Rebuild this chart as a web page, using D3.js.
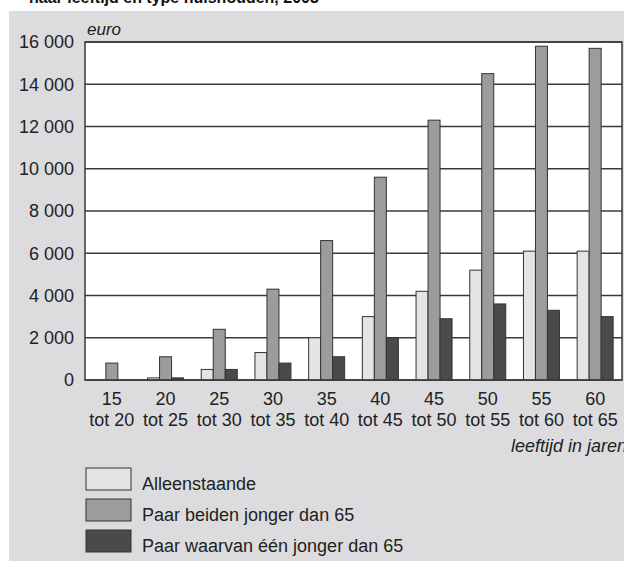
<!DOCTYPE html>
<html>
<head>
<meta charset="utf-8">
<script src="https://cdn.jsdelivr.net/npm/d3@7"></script>
<style>
  html, body { margin: 0; padding: 0; background: #fff; }
  svg { display: block; font-family: "Liberation Sans", Arial, sans-serif; }
</style>
</head>
<body>
<div id="chart"></div>
<script>
// data (euro)
var ageFrom = ["15", "20", "25", "30", "35", "40", "45", "50", "55", "60"];
var ageTo = ["tot 20", "tot 25", "tot 30", "tot 35", "tot 40", "tot 45", "tot 50", "tot 55", "tot 60", "tot 65"];
var alleenstaande = [0, 100, 500, 1300, 2000, 3000, 4200, 5200, 6100, 6100];
var paarBeiden = [800, 1100, 2400, 4300, 6600, 9600, 12300, 14500, 15800, 15700];
var paarEen = [0, 100, 500, 800, 1100, 2000, 2900, 3600, 3300, 3000];
var seriesNames = ["Alleenstaande", "Paar beiden jonger dan 65", "Paar waarvan één jonger dan 65"];
var yTicks = [0, 2000, 4000, 6000, 8000, 10000, 12000, 14000, 16000];

var width = 624, height = 561;
var colors = ["#e4e4e6", "#9c9c9c", "#4a4a4c"];

var svg = d3.select("#chart").append("svg")
  .attr("width", width)
  .attr("height", height);

// grey page panel
svg.append("rect")
  .attr("x", 9).attr("y", 11)
  .attr("width", width - 9).attr("height", height - 11)
  .attr("fill", "#dcdcde");

// clipped title at the top
svg.append("text")
  .attr("x", 29).attr("y", 3)
  .attr("font-size", 16).attr("font-weight", "bold")
  .attr("fill", "#111")
  .text("naar leeftijd en type huishouden, 2003");

var plotLeft = 85, plotRight = 622, plotTop = 42, plotBottom = 380;

var x = d3.scaleBand().domain(ageFrom).range([plotLeft, plotRight]);
var xs = d3.scaleBand().domain(seriesNames)
  .range([x.bandwidth() / 2 - 18, x.bandwidth() / 2 + 18]);
var y = d3.scaleLinear().domain([0, 16000]).range([plotBottom, plotTop]);

// plot area
svg.append("rect")
  .attr("x", plotLeft).attr("y", plotTop)
  .attr("width", plotRight - plotLeft).attr("height", plotBottom - plotTop)
  .attr("fill", "#fff");

// gridlines
svg.append("g").selectAll("line")
  .data(yTicks)
  .enter().append("line")
  .attr("x1", plotLeft).attr("x2", plotRight)
  .attr("y1", function(d) { return y(d); })
  .attr("y2", function(d) { return y(d); })
  .attr("stroke", "#3a3a3a")
  .attr("stroke-width", 1.3);

// y labels
var yAxis = d3.axisLeft(y).tickValues(yTicks).tickSize(0).tickPadding(11)
  .tickFormat(function(d) { return d3.format(",")(d).replace(",", " "); });
var ya = svg.append("g").attr("transform", "translate(" + plotLeft + ",0)").call(yAxis);
ya.select(".domain").remove();
ya.selectAll("text")
  .attr("font-size", 18)
  .attr("font-family", "Liberation Sans, Arial, sans-serif")
  .attr("fill", "#222");

svg.append("text")
  .attr("x", 87).attr("y", 35)
  .attr("font-size", 17).attr("font-style", "italic")
  .attr("fill", "#222")
  .text("euro");

// bars
var rows = ageFrom.map(function(a, i) {
  return { age: a, values: [alleenstaande[i], paarBeiden[i], paarEen[i]] };
});

var groups = svg.append("g").selectAll("g")
  .data(rows)
  .enter().append("g")
  .attr("transform", function(d) { return "translate(" + x(d.age) + ",0)"; });

groups.selectAll("rect")
  .data(function(d) {
    return d.values.map(function(v, j) { return { key: seriesNames[j], value: v, j: j }; });
  })
  .enter().append("rect")
  .filter(function(d) { return d.value > 0; })
  .attr("x", function(d) { return xs(d.key); })
  .attr("width", xs.bandwidth())
  .attr("y", function(d) { return y(d.value); })
  .attr("height", function(d) { return y(0) - y(d.value); })
  .attr("fill", function(d) { return colors[d.j]; })
  .attr("stroke", "#333")
  .attr("stroke-width", 1);

// plot frame
svg.append("rect")
  .attr("x", plotLeft).attr("y", plotTop)
  .attr("width", plotRight - plotLeft).attr("height", plotBottom - plotTop)
  .attr("fill", "none")
  .attr("stroke", "#3a3a3a")
  .attr("stroke-width", 1.5);

// x labels (two lines)
var xl = svg.append("g").selectAll("text")
  .data(ageFrom)
  .enter().append("text")
  .attr("x", function(d) { return x(d) + x.bandwidth() / 2; })
  .attr("text-anchor", "middle")
  .attr("font-size", 18)
  .attr("fill", "#222");
xl.append("tspan")
  .attr("x", function(d) { return x(d) + x.bandwidth() / 2; })
  .attr("y", 405)
  .text(function(d) { return d; });
xl.append("tspan")
  .attr("x", function(d) { return x(d) + x.bandwidth() / 2; })
  .attr("y", 426)
  .text(function(d, i) { return ageTo[i]; });

svg.append("text")
  .attr("x", 627).attr("y", 452)
  .attr("text-anchor", "end")
  .attr("font-size", 18).attr("font-style", "italic")
  .attr("fill", "#222")
  .text("leeftijd in jaren");

// legend
var legend = svg.append("g").selectAll("g")
  .data(seriesNames)
  .enter().append("g")
  .attr("transform", function(d, i) { return "translate(86," + (468 + i * 31) + ")"; });

legend.append("rect")
  .attr("width", 45).attr("height", 22)
  .attr("fill", function(d, i) { return colors[i]; })
  .attr("stroke", "#333")
  .attr("stroke-width", 1);

legend.append("text")
  .attr("x", 56).attr("y", 22)
  .attr("font-size", 18)
  .attr("fill", "#222")
  .text(function(d) { return d; });
</script>
</body>
</html>
